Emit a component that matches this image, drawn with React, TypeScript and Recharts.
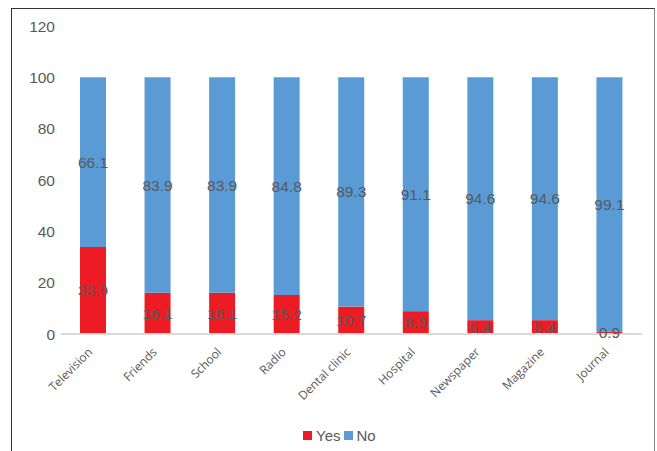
import React from 'react';
import { BarChart, Bar, XAxis, YAxis, Legend, LabelList } from 'recharts';

const categories = ['Television', 'Friends', 'School', 'Radio', 'Dental clinic', 'Hospital', 'Newspaper', 'Magazine', 'Journal'];
const yesValues = [33.9, 16.1, 16.1, 15.2, 10.7, 8.9, 5.4, 5.4, 0.9];
const noValues = [66.1, 83.9, 83.9, 84.8, 89.3, 91.1, 94.6, 94.6, 99.1];
const yTicks = [0, 20, 40, 60, 80, 100, 120];

const data = categories.map((c, i) => ({ name: c, Yes: yesValues[i], No: noValues[i] }));

const RED = '#ED1C24';
const BLUE = '#5B9BD5';
const TEXT = '#595959';
const FONT = "'Liberation Sans', Arial, sans-serif";

const XTick = (props: any) => {
  const { x, y, payload } = props;
  return (
    <g transform={`translate(${x - 3},${y + 8})`}>
      <text
        x={0}
        y={0}
        dy={4}
        textAnchor="end"
        transform="rotate(-45)"
        fill={TEXT}
        fontSize={12}
        fontFamily="'Open Sans', sans-serif"
      >
        {payload.value}
      </text>
    </g>
  );
};

const LegendContent = () => (
  <div style={{ display: 'flex', alignItems: 'center', height: 20, fontFamily: FONT, fontSize: 15, color: TEXT, whiteSpace: 'nowrap' }}>
    <span style={{ display: 'inline-block', width: 9, height: 9, background: RED, marginRight: 4 }} />
    <span style={{ marginRight: 4 }}>Yes</span>
    <span style={{ display: 'inline-block', width: 9, height: 9, background: BLUE, marginRight: 3 }} />
    <span>No</span>
  </div>
);

export default function App() {
  return (
    <div style={{ position: 'fixed', left: 0, top: 0, width: 657, height: 451, background: '#fff', overflow: 'hidden' }}>
      <div
        style={{
          position: 'absolute',
          left: 11,
          top: 8,
          width: 657 - 11 - 2,
          height: 460,
          borderTop: '1.5px solid #333',
          borderLeft: '1.5px solid #333',
          borderRight: '1.5px solid #888',
          boxSizing: 'border-box',
        }}
      />
      <div style={{ position: 'absolute', left: 0, top: 0 }}>
        <BarChart
          width={657}
          height={451}
          data={data}
          margin={{ top: 26, right: 15, bottom: 6, left: 11 }}
        >
          <XAxis
            dataKey="name"
            tick={<XTick />}
            tickLine={false}
            axisLine={{ stroke: '#D9D9D9', strokeWidth: 2 }}
            height={91}
            interval={0}
          />
          <YAxis
            domain={[0, 120]}
            ticks={yTicks}
            width={50}
            axisLine={false}
            tickLine={false}
            tickSize={4}
            tick={{ fill: TEXT, fontSize: 15.5, fontFamily: FONT }}
          />
          <Legend
            verticalAlign="bottom"
            content={<LegendContent />}
            wrapperStyle={{ left: 303, width: 'auto', height: 20 }}
          />
          <Bar dataKey="Yes" stackId="a" fill={RED} barSize={26} isAnimationActive={false}>
            <LabelList dataKey="Yes" position="center" fill={TEXT} fontSize={15.5} fontFamily={FONT} />
          </Bar>
          <Bar dataKey="No" stackId="a" fill={BLUE} barSize={26} isAnimationActive={false}>
            <LabelList dataKey="No" position="center" fill={TEXT} fontSize={15.5} fontFamily={FONT} />
          </Bar>
        </BarChart>
      </div>
    </div>
  );
}
